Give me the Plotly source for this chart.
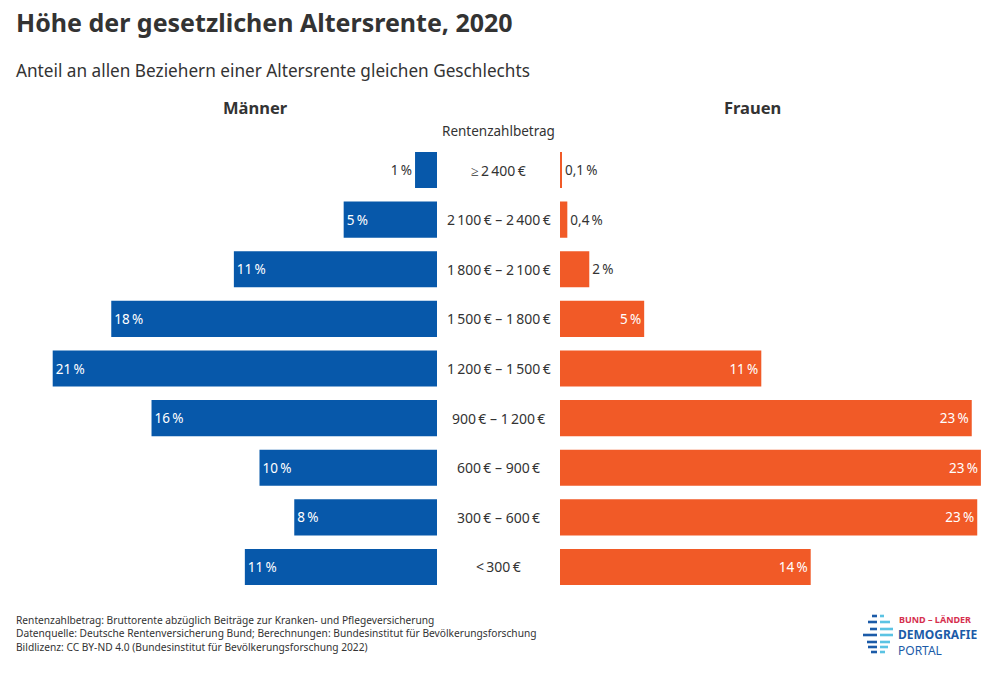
import plotly.graph_objects as go

W, H = 1000, 674
FONT = "Noto Sans"
TXT = "#333333"
BLUE = "#0758AA"
ORANGE = "#F15A27"

# ---- data (top to bottom) ----
categories = ["≥\u20092\u2009400\u2009€", "2\u2009100\u2009€ – 2\u2009400\u2009€", "1\u2009800\u2009€ – 2\u2009100\u2009€",
              "1\u2009500\u2009€ – 1\u2009800\u2009€", "1\u2009200\u2009€ – 1\u2009500\u2009€", "900\u2009€ – 1\u2009200\u2009€",
              "600\u2009€ – 900\u2009€", "300\u2009€ – 600\u2009€", "<\u2009300\u2009€"]
maenner = [1.2, 5.1, 11.1, 17.8, 21.0, 15.6, 9.7, 7.8, 10.5]
frauen = [0.1, 0.4, 1.6, 4.6, 11.0, 22.5, 23.0, 22.8, 13.7]
maenner_labels = ["1\u2009%", "5\u2009%", "11\u2009%", "18\u2009%", "21\u2009%", "16\u2009%", "10\u2009%", "8\u2009%", "11\u2009%"]
frauen_labels = ["0,1\u2009%", "0,4\u2009%", "2\u2009%", "5\u2009%", "11\u2009%", "23\u2009%", "23\u2009%", "23\u2009%", "14\u2009%"]
maenner_pos = ["outside"] + ["inside"] * 8
frauen_pos = ["outside"] * 3 + ["inside"] * 6

def px(x):
    return x / W

def py(y):
    return 1 - y / H

fig = go.Figure()
fig.add_trace(go.Bar(
    y=categories, x=maenner, orientation="h", xaxis="x", yaxis="y",
    marker=dict(color=BLUE, line=dict(width=0)), text=maenner_labels,
    textposition=maenner_pos, insidetextanchor="end",
    insidetextfont=dict(color="white", size=13.5, family=FONT),
    outsidetextfont=dict(color=TXT, size=13.5, family=FONT),
    textangle=0, cliponaxis=False, hoverinfo="skip", showlegend=False))
fig.add_trace(go.Bar(
    y=categories, x=frauen, orientation="h", xaxis="x2", yaxis="y2",
    marker=dict(color=ORANGE, line=dict(width=0)), text=frauen_labels,
    textposition=frauen_pos, insidetextanchor="end",
    insidetextfont=dict(color="white", size=13.5, family=FONT),
    outsidetextfont=dict(color=TXT, size=13.5, family=FONT),
    textangle=0, cliponaxis=False, hoverinfo="skip", showlegend=False))

scale = 18.3  # px per percent
ydom = [py(591.8), py(145.2)]
axis_common = dict(showgrid=False, zeroline=False, showticklabels=False, showline=False, ticks="", fixedrange=True)
fig.update_layout(
    width=W, height=H, margin=dict(l=0, r=0, t=0, b=0),
    paper_bgcolor="white", plot_bgcolor="white", bargap=0.27,
    font=dict(family=FONT, color=TXT),
    xaxis=dict(domain=[0, px(437)], range=[437 / scale, 0], **axis_common),
    xaxis2=dict(domain=[px(560), 1], range=[0, 440 / scale], **axis_common),
    yaxis=dict(domain=ydom, categoryorder="array", categoryarray=categories, autorange="reversed", **axis_common),
    yaxis2=dict(domain=ydom, categoryorder="array", categoryarray=categories, autorange="reversed", anchor="x2", **axis_common),
)

ann = []
for c in categories:
    ann.append(dict(x=px(498.5), y=c, xref="paper", yref="y", text=c, showarrow=False,
                    font=dict(size=14, color=TXT, family=FONT), xanchor="center", yanchor="middle"))

def t(x, y, text, size, bold=False, color=TXT, xanchor="left"):
    ann.append(dict(x=px(x), y=py(y), xref="paper", yref="paper", text=f"<b>{text}</b>" if bold else text,
                    showarrow=False, font=dict(size=size, color=color, family=FONT),
                    xanchor=xanchor, yanchor="middle", borderpad=0))

t(15, 22, "Höhe der gesetzlichen Altersrente, 2020", 25, bold=True)
t(15, 70, "Anteil an allen Beziehern einer Altersrente gleichen Geschlechts", 17.2)
t(255, 108, "Männer", 16.5, bold=True, xanchor="center")
t(752, 108, "Frauen", 16.5, bold=True, xanchor="center")
t(498.5, 131, "Rentenzahlbetrag", 13.5, xanchor="center")
t(15, 620, "Rentenzahlbetrag: Bruttorente abzüglich Beiträge zur Kranken- und Pflegeversicherung", 10.2)
t(15, 633, "Datenquelle: Deutsche Rentenversicherung Bund; Berechnungen: Bundesinstitut für Bevölkerungsforschung", 10.2)
t(15, 647, "Bildlizenz: CC BY-ND 4.0 (Bundesinstitut für Bevölkerungsforschung 2022)", 10.2)
# logo text
t(898, 619, "BUND – LÄNDER", 9, bold=True, color="#D6304E")
t(897, 634, "DEMOGRAFIE", 12, bold=True, color="#1B5BA8")
t(897, 650, "PORTAL", 12, color="#1B5BA8")

# logo icon stripes
shapes = []
stripes = [(616, 872, 884), (622, 868, 890), (629, 870, 893), (635, 863, 893),
           (642, 867, 890), (647, 868, 888), (652, 871, 885)]
for yy, xd, xl in stripes:
    shapes.append(dict(type="rect", xref="paper", yref="paper", x0=px(xd), x1=px(877),
                       y0=py(yy + 1.3), y1=py(yy - 1.3), fillcolor="#1B5BA8", line=dict(width=0)))
    shapes.append(dict(type="rect", xref="paper", yref="paper", x0=px(880), x1=px(xl),
                       y0=py(yy + 1.3), y1=py(yy - 1.3), fillcolor="#5BC3E3", line=dict(width=0)))

fig.update_layout(annotations=ann, shapes=shapes)
fig.write_html("out.html", config={"displayModeBar": False},
               post_script="document.body.style.margin='0px';document.body.style.overflow='hidden';")
